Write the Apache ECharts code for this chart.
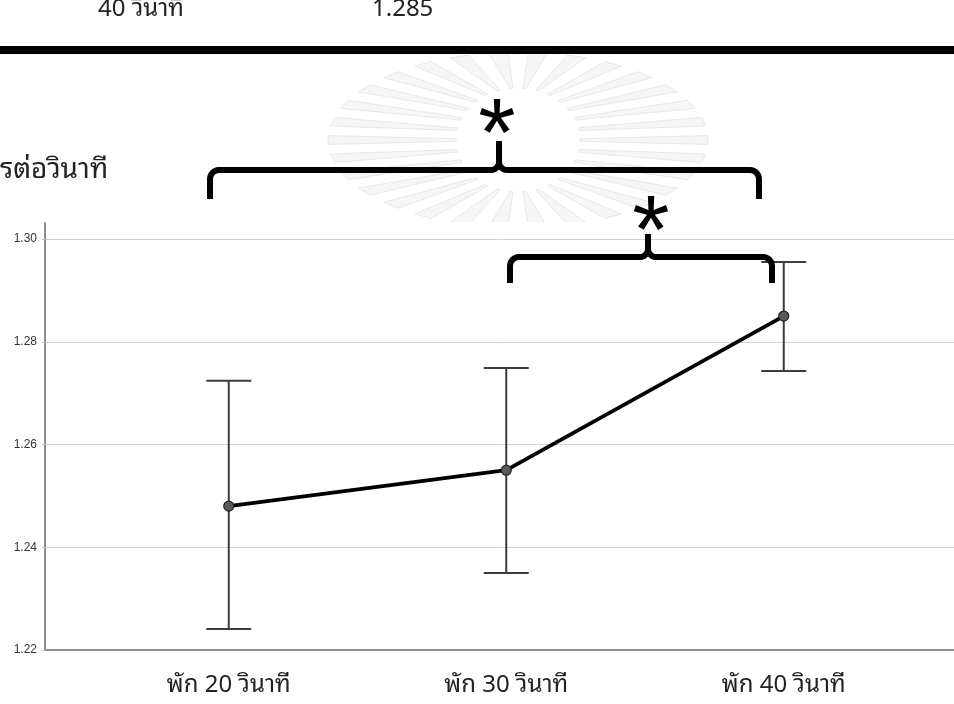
<!DOCTYPE html>
<html>
<head>
<meta charset="utf-8">
<script src="https://cdn.jsdelivr.net/npm/echarts@6/dist/echarts.min.js"></script>
<style>
  html, body { margin: 0; padding: 0; background: #fff; }
  #chart { width: 954px; height: 704px; }
</style>
</head>
<body>
<div id="chart"></div>
<script>
// Rest-interval conditions and their means with 95% CI bounds
const categories = ['พัก 20 วินาที', 'พัก 30 วินาที', 'พัก 40 วินาที'];
const means = [1.248, 1.255, 1.285];
const lowerCI = [1.2241, 1.2350, 1.2743];
const upperCI = [1.2724, 1.2749, 1.2955];
const yTicks = [1.22, 1.24, 1.26, 1.28, 1.30];

const thaiFont = "'Noto Sans Thai Looped', 'Noto Sans Thai', 'Loma', 'Garuda', 'Noto Sans', 'DejaVu Sans', sans-serif";
const starFont = "96px 'Liberation Sans', Arial, sans-serif";

const chart = echarts.init(document.getElementById('chart'), null, { renderer: 'canvas' });

// Faint emblem rays behind the bracket annotations
function emblemRays() {
  const cx = 518, cy = 140;
  const out = [];
  const n = 30;
  for (let k = 0; k < n; k++) {
    const a = (k / n) * Math.PI * 2;
    const da = 0.05;
    const pIn = ang => [cx + 62 * Math.cos(ang), cy + 52 * Math.sin(ang)];
    const pOut = ang => [cx + 190 * Math.cos(ang), cy + 88 * Math.sin(ang)];
    out.push({
      type: 'polygon',
      z: -2,
      silent: true,
      shape: { points: [pIn(a - da * 0.5), pOut(a - da), pOut(a + da), pIn(a + da * 0.5)] },
      style: { fill: '#f6f6f6', stroke: '#e8e8e8', lineWidth: 1 }
    });
  }
  return out;
}

// Quarter-circle corner points from angle a0 to a1 (radians) around (cx, cy)
function arcPts(cx, cy, r, a0, a1) {
  const pts = [];
  const n = 6;
  for (let i = 0; i <= n; i++) {
    const a = a0 + (a1 - a0) * i / n;
    pts.push([cx + r * Math.cos(a), cy + r * Math.sin(a)]);
  }
  return pts;
}

// Curly-style bracket: two legs down, a beam, and a small peak in the middle
function bracket(x0, x1, xm, yBeam, yLeg, yPeak) {
  const r = 9, rm = 8;
  const PI = Math.PI;
  const left = [[x0, yLeg]]
    .concat(arcPts(x0 + r, yBeam + r, r, PI, 1.5 * PI))
    .concat(arcPts(xm - rm, yBeam - rm, rm, 0.5 * PI, 0))
    .concat([[xm, yPeak]]);
  const right = [[xm, yPeak]]
    .concat(arcPts(xm + rm, yBeam - rm, rm, PI, 0.5 * PI))
    .concat(arcPts(x1 - r, yBeam + r, r, 1.5 * PI, 2 * PI))
    .concat([[x1, yLeg]]);
  const style = { stroke: '#000', lineWidth: 6, fill: null, lineCap: 'butt', lineJoin: 'round' };
  return [
    { type: 'polyline', z: 10, silent: true, shape: { points: left }, style: style },
    { type: 'polyline', z: 10, silent: true, shape: { points: right }, style: style }
  ];
}

const option = {
  backgroundColor: '#fff',
  animation: false,
  grid: [
    // gridlines and tick labels across the full plot width
    { left: 45, right: 0, top: 239, bottom: 54 },
    // vertical axis line extending slightly above the top tick
    { left: 45, width: 1, top: 223, bottom: 54 },
    // category band area holding the data
    { left: 90, right: 31.5, top: 239, bottom: 54 }
  ],
  xAxis: [
    { gridIndex: 0, type: 'value', min: 0, max: 1,
      axisLine: { show: true, lineStyle: { color: '#8e8e8e', width: 2 } },
      axisTick: { show: false }, axisLabel: { show: false }, splitLine: { show: false } },
    { gridIndex: 1, type: 'value', min: 0, max: 1, show: false },
    { gridIndex: 2, type: 'category', data: categories, boundaryGap: true,
      axisLine: { show: false }, axisTick: { show: false }, splitLine: { show: false },
      axisLabel: { fontFamily: thaiFont, fontSize: 24, color: '#222', margin: 23 } }
  ],
  yAxis: [
    { gridIndex: 0, type: 'value', min: yTicks[0], max: yTicks[yTicks.length - 1], interval: 0.02,
      axisLine: { show: false },
      axisTick: { show: true, length: 3, lineStyle: { color: '#c8c8c8' } },
      axisLabel: { fontFamily: "'Liberation Sans', Arial, sans-serif", fontSize: 12, color: '#333', margin: 8,
        formatter: v => v.toFixed(2) },
      splitLine: { show: true, lineStyle: { color: '#d2d2d2', width: 1 } } },
    { gridIndex: 1, type: 'value', min: 0, max: 1,
      axisLine: { show: true, lineStyle: { color: '#8e8e8e', width: 2 } },
      axisTick: { show: false }, axisLabel: { show: false }, splitLine: { show: false } },
    { gridIndex: 2, type: 'value', min: yTicks[0], max: yTicks[yTicks.length - 1], show: false }
  ],
  series: [
    {
      type: 'custom',
      name: 'ci',
      xAxisIndex: 2, yAxisIndex: 2,
      z: 3,
      data: categories.map((c, i) => [i, lowerCI[i], upperCI[i]]),
      renderItem: function (params, api) {
        const lo = api.coord([api.value(0), api.value(1)]);
        const hi = api.coord([api.value(0), api.value(2)]);
        const hw = 22.5;
        const st = { stroke: '#3c3c3c', lineWidth: 2 };
        return {
          type: 'group',
          children: [
            { type: 'line', shape: { x1: lo[0], y1: lo[1], x2: hi[0], y2: hi[1] }, style: st },
            { type: 'line', shape: { x1: hi[0] - hw, y1: hi[1], x2: hi[0] + hw, y2: hi[1] }, style: st },
            { type: 'line', shape: { x1: lo[0] - hw, y1: lo[1], x2: lo[0] + hw, y2: lo[1] }, style: st }
          ]
        };
      }
    },
    {
      type: 'line',
      name: 'mean',
      xAxisIndex: 2, yAxisIndex: 2,
      z: 4,
      data: means,
      symbol: 'circle',
      symbolSize: 10,
      lineStyle: { color: '#000', width: 3.8 },
      itemStyle: { color: '#5a5a5a', borderColor: '#222', borderWidth: 1.2 }
    }
  ],
  graphic: [
    ...emblemRays(),
    // white backdrop of the plot panel covering the emblem
    { type: 'rect', z: -1, silent: true, shape: { x: 30, y: 222, width: 924, height: 482 }, style: { fill: '#fff' } },
    // white band above the rule so the emblem stays beneath it
    { type: 'rect', z: -1, silent: true, shape: { x: 0, y: 0, width: 954, height: 50 }, style: { fill: '#fff' } },
    // table fragment above the figure
    { type: 'text', x: 98, y: 9, style: { text: '40 วินาที', font: "24px " + thaiFont, fill: '#222', verticalAlign: 'middle' } },
    { type: 'text', x: 372, y: 9, style: { text: '1.285', font: "24px " + thaiFont, fill: '#222', verticalAlign: 'middle' } },
    { type: 'rect', shape: { x: 0, y: 46, width: 954, height: 8 }, style: { fill: '#000' } },
    // axis title (partly outside the page)
    { type: 'text', x: 0, y: 170, style: { text: 'รต่อวินาที', font: "28px " + thaiFont, fill: '#222', verticalAlign: 'middle' } },
    // significance bracket 20 s vs 40 s
    ...bracket(210, 759, 499, 170, 199, 141),
    { type: 'text', z: 10, x: 497, y: 139, style: { text: '*', font: starFont, fill: '#000', align: 'center', verticalAlign: 'middle' } },
    // significance bracket 30 s vs 40 s
    ...bracket(510, 772, 648, 257, 283, 234),
    { type: 'text', z: 10, x: 651, y: 236, style: { text: '*', font: starFont, fill: '#000', align: 'center', verticalAlign: 'middle' } }
  ]
};

chart.setOption(option);
</script>
</body>
</html>
